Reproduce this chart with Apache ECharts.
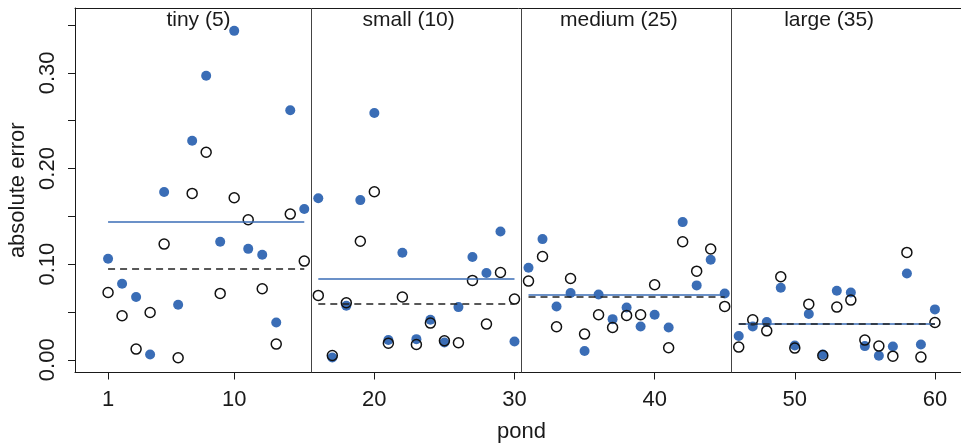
<!DOCTYPE html>
<html>
<head>
<meta charset="utf-8">
<script src="https://cdn.jsdelivr.net/npm/echarts@6/dist/echarts.min.js"></script>
<style>
  html, body { margin: 0; padding: 0; background: #fff; }
  #chart { width: 961px; height: 446px; }
</style>
</head>
<body>
<div id="chart"></div>
<script>
// absolute error per pond, filled blue points
var bluePts = [
  0.1056, 0.0795, 0.0656, 0.0056, 0.1754, 0.0575, 0.229, 0.297, 0.1234, 0.344, 0.116, 0.1098, 0.039, 0.261, 0.1576,
  0.169, 0.0024, 0.0565, 0.167, 0.258, 0.0206, 0.1119, 0.0216, 0.0418, 0.0181, 0.0551, 0.1074, 0.0907, 0.1342, 0.0192,
  0.0962, 0.1262, 0.0558, 0.0698, 0.0091, 0.0683, 0.0425, 0.0547, 0.0349, 0.0471, 0.0338, 0.144, 0.0778, 0.1046, 0.0694,
  0.0248, 0.0349, 0.0394, 0.0753, 0.015, 0.0478, 0.0056, 0.0722, 0.0704, 0.0143, 0.0042, 0.0139, 0.0903, 0.016, 0.0527
];
// open black circles
var openPts = [
  0.0704, 0.046, 0.0112, 0.0495, 0.121, 0.0021, 0.174, 0.217, 0.0694, 0.1695, 0.1464, 0.0743, 0.0164, 0.1524, 0.1032,
  0.0673, 0.0045, 0.0596, 0.124, 0.1757, 0.0174, 0.0656, 0.016, 0.0384, 0.0199, 0.0178, 0.083, 0.0373, 0.0913, 0.0635,
  0.0823, 0.108, 0.0345, 0.085, 0.0269, 0.0471, 0.0338, 0.0464, 0.0471, 0.0785, 0.0126, 0.1234, 0.0927, 0.1158, 0.0558,
  0.0133, 0.0418, 0.0303, 0.0868, 0.0122, 0.0582, 0.0045, 0.0551, 0.0624, 0.0206, 0.0143, 0.0038, 0.1123, 0.0028, 0.039
];
// group info
var groupNames = ["tiny (5)", "small (10)", "medium (25)", "large (35)"];
var groupStart = [1, 16, 31, 46];
var groupEnd = [15, 30, 45, 60];
var blueMeans = [0.1443, 0.0847, 0.0683, 0.0377];
var dashMeans = [0.0948, 0.0589, 0.0656, 0.0373];
var dividers = [15.5, 30.5, 45.5];
var xTicks = [1, 10, 20, 30, 40, 50, 60];
var yTicks = [0, 0.05, 0.1, 0.15, 0.2, 0.25, 0.3, 0.35];
var yLabels = [0, 0.1, 0.2, 0.3];

var blueCol = "#3a6db6";
var font = "Liberation Sans";
var ink = "#1a1a1a";

var blueData = bluePts.map(function (v, i) { return [i + 1, v]; });
var openData = openPts.map(function (v, i) { return [i + 1, v]; });

var blueLines = [], dashLines = [];
for (var g = 0; g < 4; g++) {
  blueLines.push([{ coord: [groupStart[g], blueMeans[g]] }, { coord: [groupEnd[g], blueMeans[g]] }]);
  dashLines.push([{ coord: [groupStart[g], dashMeans[g]] }, { coord: [groupEnd[g], dashMeans[g]] }]);
}
var titleData = groupNames.map(function (n, g) {
  return { value: [(groupStart[g] + groupEnd[g]) / 2 - 0.55, 0.3556], name: n };
});

var myChart = echarts.init(document.getElementById("chart"));
var option = {
  animation: false,
  // box runs past the right edge of the picture
  grid: { left: 75, top: 8, width: 893, height: 364.5, show: false, outerBoundsMode: "none", containLabel: false },
  xAxis: [{
    type: "value", min: -1.36, max: 62.36,
    name: "pond", nameLocation: "middle", nameGap: 48,
    nameTextStyle: { fontFamily: font, fontSize: 22, color: ink },
    axisLine: { show: true, onZero: false, lineStyle: { color: ink } },
    axisTick: { show: true, length: 7, customValues: xTicks, lineStyle: { color: ink } },
    axisLabel: { customValues: xTicks, margin: 16, fontFamily: font, fontSize: 22, color: ink },
    splitLine: { show: false }
  }, {
    // top edge of the box only
    type: "value", position: "top", min: -1.36, max: 62.36,
    axisLine: { show: true, onZero: false, lineStyle: { color: ink } },
    axisTick: { show: false }, axisLabel: { show: false }, splitLine: { show: false }
  }],
  yAxis: {
    type: "value", min: -0.0133, max: 0.3679,
    name: "absolute error", nameLocation: "middle", nameGap: 46,
    nameTextStyle: { fontFamily: font, fontSize: 22, color: ink },
    axisLine: { show: true, onZero: false, lineStyle: { color: ink } },
    axisTick: { show: true, length: 7, customValues: yTicks, lineStyle: { color: ink } },
    axisLabel: {
      customValues: yLabels, rotate: 90, margin: 16, fontFamily: font, fontSize: 22, color: ink,
      formatter: function (v) { return v.toFixed(2); }
    },
    splitLine: { show: false }
  },
  series: [
    {
      type: "scatter", data: blueData, symbol: "circle", symbolSize: 10,
      itemStyle: { color: blueCol, opacity: 1 },
      markLine: {
        silent: true, symbol: "none", label: { show: false },
        lineStyle: { color: "#444", width: 1, type: "solid" },
        data: dividers.map(function (d) { return { xAxis: d }; })
      }
    },
    {
      type: "scatter", data: openData, symbol: "circle", symbolSize: 10,
      itemStyle: { color: "rgba(0,0,0,0)", borderColor: "#111", borderWidth: 1.5, opacity: 1 }
    },
    {
      type: "line", data: [], markLine: {
        silent: true, symbol: "none", label: { show: false },
        lineStyle: { color: blueCol, width: 1.5, type: "solid" },
        data: blueLines
      }
    },
    {
      type: "line", data: [], markLine: {
        silent: true, symbol: "none", label: { show: false },
        lineStyle: { color: "#222", width: 1.7, type: [7, 5] },
        data: dashLines
      }
    },
    {
      type: "scatter", data: titleData, symbolSize: 0, silent: true,
      itemStyle: { opacity: 1 },
      label: {
        show: true, position: "inside", formatter: "{b}",
        fontFamily: font, fontSize: 21, color: ink, opacity: 1
      }
    }
  ]
};
myChart.setOption(option);
</script>
</body>
</html>
